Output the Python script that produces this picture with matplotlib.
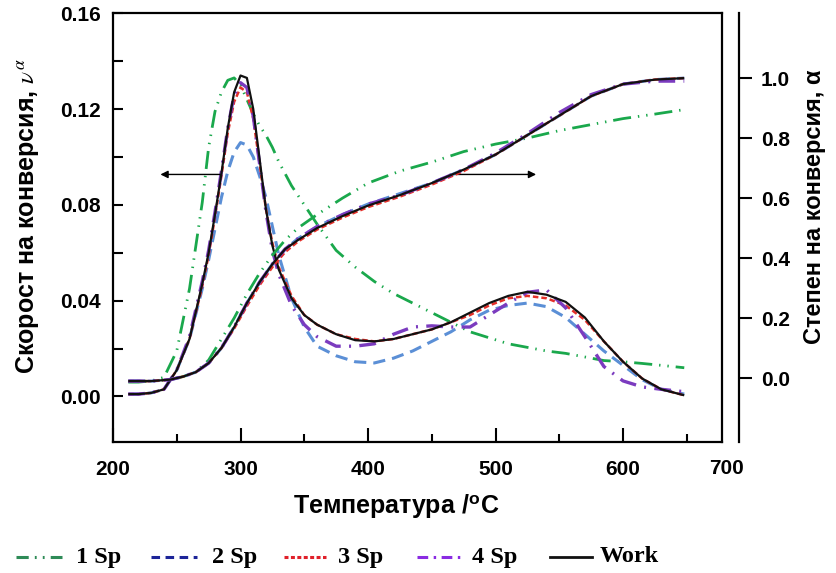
import matplotlib
matplotlib.use("Agg")
import matplotlib.pyplot as plt
from matplotlib.ticker import MultipleLocator, FormatStrFormatter, FixedLocator
from matplotlib.lines import Line2D

plt.rcParams["font.family"] = ["Liberation Sans", "DejaVu Sans"]
plt.rcParams["mathtext.fontset"] = "stix"

# ---- temperature grids (°C) ----
T_rate = [212, 220, 230, 240, 250, 260, 270, 275, 280, 285, 290, 295, 300, 305,
          310, 315, 320, 325, 330, 340, 350, 360, 375, 390, 405, 420, 435, 450,
          465, 480, 495, 510, 525, 540, 555, 570, 585, 600, 615, 630, 648]
T_alpha = [212, 230, 245, 255, 265, 275, 285, 295, 305, 315, 325, 335, 345, 360,
           380, 400, 425, 450, 475, 500, 525, 550, 575, 600, 625, 648]

# ---- conversion rate (left axis) ----
rate_1sp = [0.006, 0.006, 0.0065, 0.008, 0.019, 0.045, 0.081, 0.104, 0.119, 0.127,
            0.132, 0.133, 0.130, 0.124, 0.118, 0.113, 0.109, 0.104, 0.098, 0.088,
            0.080, 0.072, 0.061, 0.054, 0.048, 0.043, 0.039, 0.035, 0.031, 0.027,
            0.0245, 0.022, 0.0205, 0.019, 0.018, 0.0165, 0.015, 0.0145, 0.0138,
            0.013, 0.012]
rate_2sp = [0.001, 0.001, 0.0015, 0.003, 0.011, 0.024, 0.045, 0.057, 0.070, 0.083,
            0.094, 0.102, 0.106, 0.105, 0.100, 0.092, 0.083, 0.071, 0.059, 0.041,
            0.029, 0.021, 0.017, 0.0145, 0.014, 0.016, 0.019, 0.023, 0.027, 0.032,
            0.036, 0.038, 0.039, 0.0375, 0.033, 0.026, 0.019, 0.013, 0.007, 0.003,
            0.001]
rate_3sp = [0.001, 0.001, 0.0015, 0.003, 0.011, 0.024, 0.046, 0.059, 0.075, 0.092,
            0.110, 0.123, 0.129, 0.127, 0.116, 0.097, 0.078, 0.064, 0.054, 0.042,
            0.034, 0.030, 0.026, 0.024, 0.023, 0.024, 0.026, 0.028, 0.031, 0.034,
            0.038, 0.041, 0.042, 0.041, 0.038, 0.032, 0.023, 0.0145, 0.0075, 0.003,
            0.0005]
rate_4sp = [0.001, 0.001, 0.0015, 0.003, 0.011, 0.025, 0.048, 0.061, 0.077, 0.094,
            0.112, 0.126, 0.131, 0.129, 0.117, 0.097, 0.077, 0.061, 0.051, 0.038,
            0.030, 0.025, 0.021, 0.021, 0.022, 0.026, 0.029, 0.0295, 0.029, 0.029,
            0.034, 0.039, 0.0435, 0.0445, 0.037, 0.025, 0.0125, 0.0065, 0.004,
            0.003, 0.002]
rate_work = [0.001, 0.001, 0.0015, 0.003, 0.011, 0.024, 0.047, 0.060, 0.076, 0.093,
             0.112, 0.127, 0.134, 0.133, 0.120, 0.099, 0.078, 0.063, 0.053, 0.041,
             0.034, 0.030, 0.026, 0.0235, 0.023, 0.024, 0.026, 0.028, 0.031, 0.035,
             0.039, 0.042, 0.0437, 0.0425, 0.0395, 0.033, 0.023, 0.0145, 0.0075,
             0.003, 0.0005]

# ---- degree of conversion (right axis) ----
alpha_1sp = [-0.01, -0.01, -0.005, 0.005, 0.02, 0.06, 0.13, 0.20, 0.28, 0.35, 0.41,
             0.46, 0.50, 0.545, 0.60, 0.65, 0.69, 0.72, 0.755, 0.78, 0.80, 0.825,
             0.845, 0.865, 0.88, 0.895]
alpha_2sp = [-0.01, -0.01, -0.005, 0.005, 0.02, 0.05, 0.10, 0.17, 0.25, 0.32, 0.38,
             0.43, 0.465, 0.505, 0.545, 0.58, 0.615, 0.65, 0.695, 0.745, 0.81, 0.875,
             0.94, 0.98, 0.995, 1.0]
alpha_3sp = [-0.01, -0.01, -0.005, 0.005, 0.02, 0.05, 0.10, 0.165, 0.24, 0.31, 0.37,
             0.42, 0.455, 0.495, 0.535, 0.57, 0.605, 0.645, 0.69, 0.745, 0.81, 0.875,
             0.94, 0.98, 0.995, 1.0]
alpha_4sp = [-0.01, -0.01, -0.005, 0.005, 0.02, 0.05, 0.10, 0.17, 0.25, 0.32, 0.38,
             0.43, 0.465, 0.505, 0.545, 0.58, 0.61, 0.65, 0.695, 0.75, 0.815, 0.885,
             0.945, 0.98, 0.99, 0.99]
alpha_work = [-0.01, -0.01, -0.005, 0.005, 0.02, 0.05, 0.10, 0.17, 0.25, 0.32, 0.38,
              0.43, 0.46, 0.50, 0.54, 0.575, 0.61, 0.65, 0.695, 0.745, 0.81, 0.875,
              0.94, 0.98, 0.995, 1.0]

series_names = ["1 Sp", "2 Sp", "3 Sp", "4 Sp", "Work"]
x_ticks = [200, 300, 400, 500, 600]
alpha_ticks = [0.0, 0.2, 0.4, 0.6, 0.8, 1.0]

# ---- styles ----
styles = {
    "1 Sp": dict(color="#1aa84c", lw=2.0, dashes=(6.5, 2.5, 0.5, 2.5, 0.5, 2.5)),
    "2 Sp": dict(color="#5b8fd6", lw=2.2, dashes=(4, 2.3)),
    "3 Sp": dict(color="#e4302a", lw=1.8, dashes=(2.2, 1.2)),
    "4 Sp": dict(color="#7b3bbf", lw=2.4, dashes=(5, 2.5, 0.6, 2.5)),
    "Work": dict(color="#111111", lw=1.6, dashes=()),
}
legend_colors = {"1 Sp": "#2e8b57", "2 Sp": "#1c2498", "3 Sp": "#e0202a",
                 "4 Sp": "#8a2be2", "Work": "#111111"}
legend_dashes = {"1 Sp": (4, 2, 0.6, 2, 0.6, 2), "2 Sp": (2.8, 1.8),
                 "3 Sp": (1.3, 0.8), "4 Sp": (3.5, 1.8, 0.8, 1.8), "Work": ()}

W, H = 836, 573
fig = plt.figure(figsize=(W / 100, H / 100), dpi=100)
ax = fig.add_axes([113 / W, 1 - 442 / H, (722 - 113) / W, (442 - 13) / H])
ax2 = ax.twinx()

rates = [rate_1sp, rate_2sp, rate_3sp, rate_4sp, rate_work]
alphas = [alpha_1sp, alpha_2sp, alpha_3sp, alpha_4sp, alpha_work]

for name, r, a in zip(series_names, rates, alphas):
    st = styles[name]
    kw = dict(color=st["color"], lw=st["lw"], solid_capstyle="butt",
              dash_capstyle="butt")
    l1, = ax.plot(T_rate, r, **kw)
    l2, = ax2.plot(T_alpha, a, **kw)
    if st["dashes"]:
        l1.set_dashes(st["dashes"])
        l2.set_dashes(st["dashes"])

# axes ranges
ax.set_xlim(200, 677.6)
ax.set_ylim(-0.019, 0.1601)
ax2.set_ylim(-0.213, 1.217)

# left / bottom axis formatting
ax.xaxis.set_major_locator(FixedLocator(x_ticks))
ax.xaxis.set_minor_locator(MultipleLocator(50))
ax.yaxis.set_major_locator(MultipleLocator(0.04))
ax.yaxis.set_minor_locator(MultipleLocator(0.02))
ax.yaxis.set_major_formatter(FormatStrFormatter("%.2f"))
ax.tick_params(axis="x", which="major", direction="in", length=10, width=1.5,
               pad=13, labelsize=15)
ax.tick_params(axis="x", which="minor", direction="in", length=6, width=1.5)
ax.tick_params(axis="y", which="both", direction="in", length=7, width=1.5,
               pad=9, labelsize=15)
for lab in ax.get_xticklabels() + ax.get_yticklabels():
    lab.set_fontweight("bold")
for sp in ax.spines.values():
    sp.set_linewidth(1.6)

# last temperature label sits just past the frame
ax.text(1.0 + 4 / 609, -27 / 429, "700", transform=ax.transAxes, ha="center",
        va="center", fontsize=15, fontweight="bold")

# right (conversion degree) axis on an offset spine
for s in ["left", "top", "bottom"]:
    ax2.spines[s].set_visible(False)
ax2.spines["right"].set_position(("outward", 12))
ax2.spines["right"].set_linewidth(1.6)
ax2.set_yticks(alpha_ticks)
ax2.yaxis.set_major_formatter(FormatStrFormatter("%.1f"))
ax2.tick_params(axis="y", direction="out", length=9, width=1.5, pad=7,
                labelsize=15)
for lab in ax2.get_yticklabels():
    lab.set_fontweight("bold")

# axis titles
fig.text(396 / W, 1 - 506 / H, "Температура /$^{\\mathregular{o}}$C",
         ha="center", va="center", fontsize=18, fontweight="bold")
fig.text(28 / W, 1 - 216 / H, "Скорост на конверсия, $\\nu^{\\alpha}$",
         rotation=90, ha="center", va="center", fontsize=18, fontweight="bold")
fig.text(815 / W, 1 - 207 / H, "Степен на конверсия, α", rotation=90,
         ha="center", va="center", fontsize=17, fontweight="bold")

# arrows pointing each family of curves to its axis
arrow_y = 0.0927
arrowprops = dict(arrowstyle="-|>", color="black", lw=1.0, mutation_scale=11)
ax.annotate("", xy=(235, arrow_y), xytext=(286, arrow_y), arrowprops=arrowprops)
ax.annotate("", xy=(534, arrow_y), xytext=(462, arrow_y), arrowprops=arrowprops)

# legend row under the plot
leg_line_x = [(16, 62), (151, 197), (284, 326), (417, 462), (550, 592)]
leg_text_x = [76, 212, 338, 472, 600]
leg_y = 1 - 557 / H
for name, (x0, x1), xt in zip(series_names, leg_line_x, leg_text_x):
    ln = Line2D([x0 / W, x1 / W], [leg_y, leg_y], transform=fig.transFigure,
                color=legend_colors[name], lw=2.2 if name != "Work" else 2.0)
    if legend_dashes[name]:
        ln.set_dashes(legend_dashes[name])
    fig.add_artist(ln)
    fig.text(xt / W, leg_y, name, ha="left", va="center", fontsize=17.5,
             fontweight="bold", family=["Liberation Serif", "DejaVu Serif"])

fig.savefig("out.png", dpi=100)
